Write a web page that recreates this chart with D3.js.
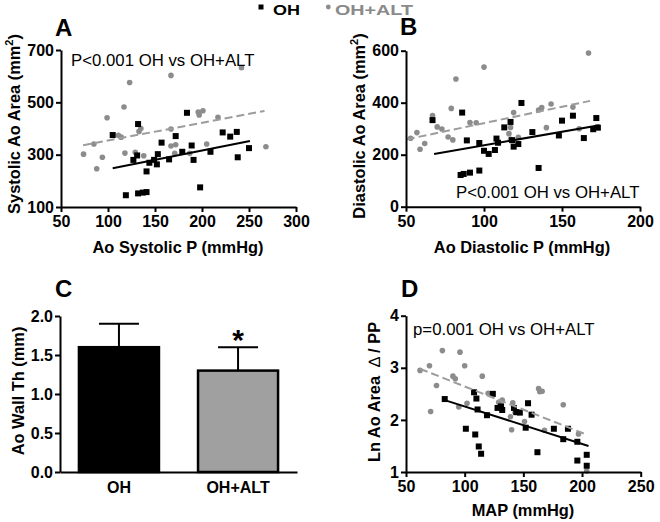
<!DOCTYPE html>
<html>
<head>
<meta charset="utf-8">
<script src="https://cdn.jsdelivr.net/npm/d3@7"></script>
<style>
  html, body { margin: 0; padding: 0; background: #fff; }
  svg { display: block; font-family: "Liberation Sans", Arial, sans-serif; }
  text { white-space: pre; }
</style>
</head>
<body>
<svg id="chart" width="660" height="522"></svg>
<script>
// ---------- DATA ----------
// Panel A: Ao Systolic P (mmHg) vs Systolic Ao Area (mm2)
const A_OH = [[105,375],[119,145],[127,280],[132,417],[131,297],[132,152],[137,155],[141,157],[141,236],
  [144,269],[149,280],[152,263],[153,302],[157,346],[165,282],[172,371],[179,311],[184,460],[189,335],
  [191,280],[198,175],[209,311],[222,385],[230,369],[237,387],[238,290],[250,325]];
const A_ALT = [[74,302],[85,341],[88,246],[94,290],[99,441],[111,374],[114,367],[117,482],[118,306],
  [123,576],[129,309],[133,389],[135,400],[138,296],[167,603],[167,398],[167,333],[171,305],[172,338],
  [187,305],[196,463],[197,452],[201,468],[205,341],[217,443],[242,632],[268,330]];
const A_fitOH = [[105,248],[251,352]];
const A_fitALT = [[73.5,336],[266.5,467]];
const A_xTicks = [50,100,150,200,250,300];
const A_yTicks = [100,300,500,700];

// Panel B: Ao Diastolic P (mmHg) vs Diastolic Ao Area (mm2)
const B_OH = [[67,333],[86,362],[89,255],[85,122],[87,126],[91,131],[97,139],[97,245],[100,215],[103,203],
  [107,218],[108,262],[109,246],[113,305],[117,326],[118,256],[119,231],[122,241],[124,399],[131,287],
  [135,149],[148,274],[150,331],[157,350],[164,264],[170,298],[172,341],[173,304]];
const B_ALT = [[53,263],[57,285],[59,221],[62,243],[67,351],[70,307],[73,299],[77,268],[80,257],[79,378],
  [82,491],[91,324],[95,323],[97,246],[100,537],[116,281],[117,305],[119,362],[117,259],[122,267],
  [135,372],[137,381],[140,304],[143,395],[157,383],[161,300],[167,591]];
const B_fitOH = [[68,203],[174,313]];
const B_fitALT = [[50.5,259],[168,407]];
const B_xTicks = [50,100,150,200];
const B_yTicks = [0,200,400,600];

// Panel C: Ao Wall Th (mm)
const C_cats = ["OH","OH+ALT"];
const C_means = [1.6,1.3];
const C_sds = [0.3,0.3];
const C_yTicks = [0,0.5,1.0,1.5,2.0];

// Panel D: MAP (mmHg) vs Ln Ao Area delta / PP
const D_OH = [[83,2.40],[101,1.83],[108,2.53],[110,2.41],[109,1.72],[111,2.20],[112,1.49],[114,1.35],
  [119,2.09],[124,2.50],[128,2.23],[131,2.26],[132,2.19],[142,2.23],[144,2.15],[147,2.14],[152,1.85],
  [154,2.32],[157,2.10],[162,1.38],[176,1.83],[184,1.63],[188,1.83],[196,1.58],[196,1.22],[204,1.33],[204,1.12]];
const D_ALT = [[62,2.95],[70,3.04],[71,2.16],[76,2.66],[81,3.33],[90,2.84],[92,2.79],[95,2.25],[96,3.30],
  [100,3.04],[102,2.32],[115,2.84],[120,2.51],[129,2.34],[132,2.38],[141,2.33],[140,1.81],[139,2.06],
  [143,2.14],[151,1.97],[163,2.60],[164,2.54],[166,2.55],[168,1.80],[184,2.29],[197,1.73],[204,1.02]];
const D_fitOH = [[83,2.38],[205.5,1.50]];
const D_fitALT = [[62,2.98],[202.5,1.73]];
const D_xTicks = [50,100,150,200,250];
const D_yTicks = [1,2,3,4];

const legendLabels = ["OH","OH+ALT"];

// ---------- STYLE ----------
const BLACK = "#000";
const GRAY_PT = "#8c8c8c";
const GRAY_LINE = "#9c9c9c";
const GRAY_BAR = "#a0a0a0";
const FONT = '"Liberation Sans", Arial, sans-serif';

const svg = d3.select("#chart");
svg.append("rect").attr("width",660).attr("height",522).attr("fill","#fff");

function styleAxis(g) {
  g.selectAll(".domain").attr("stroke", BLACK).attr("stroke-width", 2);
  g.selectAll(".tick line").attr("stroke", BLACK).attr("stroke-width", 2);
  g.selectAll(".tick text").attr("fill", BLACK).attr("font-size", 16).attr("font-weight", "bold")
    .attr("font-family", FONT);
}

function scatterPanel(o) {
  const g = svg.append("g");
  const x = d3.scaleLinear().domain(o.xDom).range(o.xRange);
  const y = d3.scaleLinear().domain(o.yDom).range(o.yRange);

  // points
  g.append("g").selectAll("circle").data(o.alt).join("circle")
    .attr("cx", d => x(d[0])).attr("cy", d => y(d[1])).attr("r", 2.8).attr("fill", GRAY_PT);
  g.append("g").selectAll("rect").data(o.oh).join("rect")
    .attr("x", d => x(d[0]) - 3).attr("y", d => y(d[1]) - 3).attr("width", 6).attr("height", 6)
    .attr("fill", BLACK);

  const line = d3.line().x(d => x(d[0])).y(d => y(d[1]));
  g.append("path").attr("d", line(o.fitAlt)).attr("stroke", GRAY_LINE).attr("stroke-width", 2)
    .attr("stroke-dasharray", "8,4").attr("fill", "none");
  g.append("path").attr("d", line(o.fitOh)).attr("stroke", BLACK).attr("stroke-width", 2)
    .attr("fill", "none");

  const ax = g.append("g").attr("transform", `translate(0,${o.yRange[0]})`)
    .call(d3.axisBottom(x).tickValues(o.xTicks).tickSize(5).tickSizeOuter(0).tickPadding(4)
      .tickFormat(d3.format("d")));
  styleAxis(ax);
  const ay = g.append("g").attr("transform", `translate(${o.xRange[0]},0)`)
    .call(d3.axisLeft(y).tickValues(o.yTicks).tickSize(5).tickSizeOuter(0).tickPadding(2)
      .tickFormat(d3.format("d")));
  styleAxis(ay);

  // annotation
  g.append("text").attr("x", o.noteX).attr("y", o.noteY).attr("font-size", 16.8)
    .attr("font-family", FONT).attr("fill", BLACK).text(o.note);
  // panel letter
  g.append("text").attr("x", o.letterX).attr("y", o.letterY).attr("font-size", 24)
    .attr("font-weight", "bold").attr("font-family", FONT).text(o.letter);
  // x title
  g.append("text").attr("x", o.xTitleX).attr("y", o.xTitleY).attr("text-anchor", "middle")
    .attr("font-size", 16.4).attr("font-weight", "bold").attr("font-family", FONT).text(o.xTitle);
  // y title
  const yt = g.append("text").attr("transform", `translate(${o.yTitleX},${o.yTitleY}) rotate(-90)`)
    .attr("text-anchor", "middle").attr("font-size", 16.4).attr("font-weight", "bold")
    .attr("font-family", FONT);
  o.yTitle(yt);
}

function areaTitle(prefix) {
  return t => {
    t.append("tspan").text(prefix + " (mm");
    t.append("tspan").attr("dy", -7).attr("font-size", 11).text("2");
    t.append("tspan").attr("dy", 7).text(")");
  };
}

scatterPanel({
  oh: A_OH, alt: A_ALT, fitOh: A_fitOH, fitAlt: A_fitALT,
  xDom: [50,300], xRange: [61,296], yDom: [100,700], yRange: [207,50],
  xTicks: A_xTicks, yTicks: A_yTicks,
  note: "P<0.001 OH vs OH+ALT", noteX: 71, noteY: 66,
  letter: "A", letterX: 55, letterY: 36,
  xTitle: "Ao Systolic P (mmHg)", xTitleX: 178, xTitleY: 253,
  yTitle: areaTitle("Systolic Ao Area"), yTitleX: 20, yTitleY: 124
});

scatterPanel({
  oh: B_OH, alt: B_ALT, fitOh: B_fitOH, fitAlt: B_fitALT,
  xDom: [50,200], xRange: [406,640], yDom: [0,600], yRange: [206.7,50.7],
  xTicks: B_xTicks, yTicks: B_yTicks,
  note: "P<0.001 OH vs OH+ALT", noteX: 456, noteY: 198,
  letter: "B", letterX: 400, letterY: 35,
  xTitle: "Ao Diastolic P (mmHg)", xTitleX: 522, xTitleY: 253,
  yTitle: areaTitle("Diastolic Ao Area"), yTitleX: 365, yTitleY: 126
});

scatterPanel({
  oh: D_OH, alt: D_ALT, fitOh: D_fitOH, fitAlt: D_fitALT,
  xDom: [50,250], xRange: [406,640.7], yDom: [1,4], yRange: [472,315.7],
  xTicks: D_xTicks, yTicks: D_yTicks,
  note: "p=0.001 OH vs OH+ALT", noteX: 413, noteY: 335,
  letter: "D", letterX: 401, letterY: 297,
  xTitle: "MAP (mmHg)", xTitleX: 523, xTitleY: 516,
  yTitle: t => {
    t.append("tspan").text("Ln Ao Area");
    t.append("tspan").attr("dx", 9).attr("font-weight", "normal").text("\u2206");
    t.append("tspan").attr("dx", 4).text("/ PP");
  },
  yTitleX: 380, yTitleY: 392
});

// ---------- Panel C (bars) ----------
(function () {
  const g = svg.append("g");
  const x = d3.scaleBand().domain(C_cats).range([60,297]).paddingInner(0.328).paddingOuter(0.159);
  const y = d3.scaleLinear().domain([0,2]).range([472,316]);
  const fills = [BLACK, GRAY_BAR];
  const rows = C_cats.map((c, i) => ({c, m: C_means[i], s: C_sds[i], f: fills[i]}));

  // error bars
  g.selectAll("line.err").data(rows).join("line").attr("class","err")
    .attr("x1", d => x(d.c) + x.bandwidth()/2).attr("x2", d => x(d.c) + x.bandwidth()/2)
    .attr("y1", d => y(d.m)).attr("y2", d => y(d.m + d.s)).attr("stroke", BLACK).attr("stroke-width", 2);
  g.selectAll("line.cap").data(rows).join("line").attr("class","cap")
    .attr("x1", d => x(d.c) + x.bandwidth()/2 - 20).attr("x2", d => x(d.c) + x.bandwidth()/2 + 20)
    .attr("y1", d => y(d.m + d.s)).attr("y2", d => y(d.m + d.s)).attr("stroke", BLACK).attr("stroke-width", 2);
  g.selectAll("rect").data(rows).join("rect")
    .attr("x", d => x(d.c)).attr("width", x.bandwidth())
    .attr("y", d => y(d.m)).attr("height", d => y(0) - y(d.m))
    .attr("fill", d => d.f).attr("stroke", BLACK).attr("stroke-width", 2.5);

  // asterisk
  g.append("text").attr("x", x(C_cats[1]) + x.bandwidth()/2).attr("y", y(C_means[1] + C_sds[1]) + 3)
    .attr("text-anchor","middle").attr("font-size", 30).attr("font-weight","bold")
    .attr("font-family", FONT).text("*");

  const ax = g.append("g").attr("transform", "translate(0,472)")
    .call(d3.axisBottom(x).tickSize(0).tickPadding(10));
  styleAxis(ax);
  const ay = g.append("g").attr("transform", "translate(60,0)")
    .call(d3.axisLeft(y).tickValues(C_yTicks).tickSize(5).tickSizeOuter(0).tickPadding(2)
      .tickFormat(d3.format(".1f")));
  styleAxis(ay);

  g.append("text").attr("x", 55).attr("y", 297).attr("font-size", 24).attr("font-weight","bold")
    .attr("font-family", FONT).text("C");
  g.append("text").attr("transform", "translate(24,391) rotate(-90)").attr("text-anchor","middle")
    .attr("font-size", 16.4).attr("font-weight","bold").attr("font-family", FONT).text("Ao Wall Th (mm)");
})();

// ---------- Legend ----------
(function () {
  const g = svg.append("g");
  g.append("rect").attr("x", 258.5).attr("y", 4.5).attr("width", 5).attr("height", 5).attr("fill", BLACK);
  g.append("text").attr("x", 273).attr("y", 14.5).attr("font-size", 15.5).attr("font-weight","bold")
    .attr("font-family", FONT).attr("fill", BLACK)
    .attr("textLength", 27).attr("lengthAdjust", "spacingAndGlyphs").text(legendLabels[0]);
  g.append("circle").attr("cx", 328.3).attr("cy", 7).attr("r", 2.4).attr("fill", GRAY_PT);
  g.append("text").attr("x", 335).attr("y", 14.5).attr("font-size", 15.5).attr("font-weight","bold")
    .attr("font-family", FONT).attr("fill", "#8a8a8a")
    .attr("textLength", 78).attr("lengthAdjust", "spacingAndGlyphs").text(legendLabels[1]);
})();
</script>
</body>
</html>
